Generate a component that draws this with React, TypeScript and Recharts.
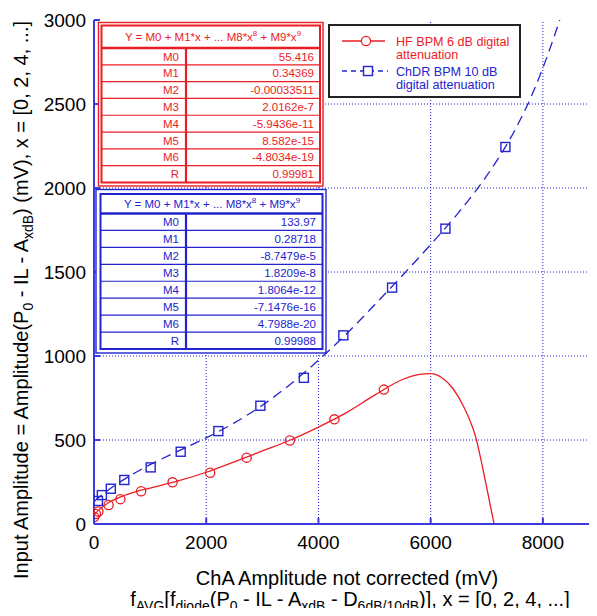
import React from 'react';
import { ComposedChart, Line, Scatter, XAxis, YAxis, ReferenceLine } from 'recharts';

const FONT = '"Liberation Sans", Arial, Helvetica, sans-serif';
const RED = '#ec1c24';
const BLUE = '#2323cf';
const AXIS = '#3b3bdc';
const GRID = '#1c1cd2';

// Axis ticks
const xTicks = [0, 2000, 4000, 6000, 8000];
const yTicks = [0, 500, 1000, 1500, 2000, 2500, 3000];

// HF BPM 6 dB digital attenuation: measured points
const hfPointsX = [5, 35, 78, 260, 470, 840, 1400, 2070, 2720, 3490, 4285, 5165];
const hfPointsY = [42, 60, 74, 113, 148, 195, 248, 305, 395, 497, 623, 800];

// HF BPM fit curve
const hfFitX = [0, 100, 250, 500, 750, 1000, 1500, 2000, 2500, 3000, 3500, 4000, 4500, 5000, 5500, 5800, 6000, 6200, 6400, 6600, 6800, 7000, 7130];
const hfFitY = [55, 87, 125, 165, 193, 214, 256, 308, 370, 435, 500, 577, 663, 767, 860, 890, 895, 871, 805, 690, 520, 215, 0];

// ChDR BPM 10 dB digital attenuation: measured points
const chdrPointsX = [70, 140, 300, 540, 1010, 1545, 2216, 2965, 3740, 4444, 5312, 6263, 7332];
const chdrPointsY = [137, 172, 210, 262, 337, 430, 553, 704, 870, 1123, 1407, 1758, 2244];

// ChDR BPM fit curve
const chdrFitX = [0, 100, 250, 500, 750, 1000, 1500, 2000, 2500, 3000, 3500, 4000, 4500, 5000, 5500, 6000, 6500, 7000, 7500, 7800, 8100, 8300];
const chdrFitY = [134, 162, 201, 258, 308, 353, 434, 513, 602, 707, 832, 975, 1132, 1304, 1481, 1663, 1855, 2073, 2344, 2550, 2805, 3000];

// Fit tables
const coefLabels = ['M0', 'M1', 'M2', 'M3', 'M4', 'M5', 'M6', 'R'];
const hfCoefValues = ['55.416', '0.34369', '-0.00033511', '2.0162e-7', '-5.9436e-11', '8.582e-15', '-4.8034e-19', '0.99981'];
const chdrCoefValues = ['133.97', '0.28718', '-8.7479e-5', '1.8209e-8', '1.8064e-12', '-7.1476e-16', '4.7988e-20', '0.99988'];

const legendHF = ['HF BPM 6 dB digital', 'attenuation'];
const legendChDR = ['ChDR BPM 10 dB', 'digital attenuation'];

const hfPoints = hfPointsX.map((x, i) => ({ x, y: hfPointsY[i] }));
const hfFit = hfFitX.map((x, i) => ({ x, y: hfFitY[i] }));
const chdrPoints = chdrPointsX.map((x, i) => ({ x, y: chdrPointsY[i] }));
const chdrFit = chdrFitX.map((x, i) => ({ x, y: chdrFitY[i] }));

function BottomTick(props: any) {
  const { x, y, payload } = props;
  return (
    <g>
      <line x1={x} x2={x} y1={y} y2={y - 6} stroke={AXIS} strokeWidth={2} />
      <text x={x} y={y + 25} textAnchor="middle" fontSize={19} fontFamily={FONT} fill="#000">{payload.value}</text>
    </g>
  );
}
function TopTick(props: any) {
  const { x, y } = props;
  return <line x1={x} x2={x} y1={y} y2={y + 6} stroke={AXIS} strokeWidth={2} />;
}
function LeftTick(props: any) {
  const { x, y, payload } = props;
  return (
    <g>
      <line x1={x} x2={x + 6} y1={y} y2={y} stroke={AXIS} strokeWidth={2} />
      <text x={x - 8} y={y + 7} textAnchor="end" fontSize={19} fontFamily={FONT} fill="#000">{payload.value}</text>
    </g>
  );
}

const CircleShape = (p: any) => <circle cx={p.cx} cy={p.cy} r={4.6} fill="none" stroke={RED} strokeWidth={1.3} />;
const SquareShape = (p: any) => <rect x={p.cx - 4.5} y={p.cy - 4.5} width={9} height={9} fill="none" stroke={BLUE} strokeWidth={1.4} />;

function CoefTable(props: any) {
  const { ox0, oy0, ox1, oy1, ix0, iy0, ix1, iy1, hy, colX, labX, valX, hx, hBase, color, values } = props;
  const rowH = (iy1 - hy) / coefLabels.length;
  return (
    <g fontFamily={FONT} fontSize={11.5} fill={color}>
      <rect x={ox0} y={oy0} width={ox1 - ox0} height={oy1 - oy0} fill="#fff" stroke={color} strokeWidth={1.4} />
      <rect x={ix0} y={iy0} width={ix1 - ix0} height={iy1 - iy0} fill="#fff" stroke={color} strokeWidth={2} />
      <line x1={ix0} x2={ix1} y1={hy} y2={hy} stroke={color} strokeWidth={2.6} />
      {coefLabels.slice(1).map((_, i) => (
        <line key={i} x1={ix0} x2={ix1} y1={hy + (i + 1) * rowH} y2={hy + (i + 1) * rowH} stroke={color} strokeWidth={1.2} />
      ))}
      <line x1={colX} x2={colX} y1={hy} y2={iy1} stroke={color} strokeWidth={2.2} />
      <text x={hx} y={hBase} textAnchor="middle">
        Y = M0 + M1*x + ... M8*x<tspan dy={-5} fontSize={8}>8</tspan><tspan dy={5}> + M9*x</tspan><tspan dy={-5} fontSize={8}>9</tspan>
      </text>
      {coefLabels.map((l, i) => (
        <text key={'l' + i} x={labX} y={hy + i * rowH + rowH / 2 + 4.2} textAnchor="end">{l}</text>
      ))}
      {values.map((v: string, i: number) => (
        <text key={'v' + i} x={valX} y={hy + i * rowH + rowH / 2 + 4.2} textAnchor="end">{v}</text>
      ))}
    </g>
  );
}

function Overlay() {
  return (
    <svg width={597} height={616} style={{ position: 'absolute', left: 0, top: 0, pointerEvents: 'none' }}>
      <CoefTable ox0={98.5} oy0={22.5} ox1={323} oy1={186} ix0={101.5} iy0={25.5} ix1={320} iy1={182.5} hy={48}
        colX={186} labX={179} valX={314} hx={213} hBase={41} color={RED} values={hfCoefValues} />
      <CoefTable ox0={96} oy0={189.5} ox1={326} oy1={353} ix0={100.5} iy0={194} ix1={322.5} iy1={349} hy={213.5}
        colX={186} labX={179} valX={316} hx={212} hBase={208} color={BLUE} values={chdrCoefValues} />
      <g fontFamily={FONT} fontSize={12.6}>
        <rect x={329} y={25} width={191} height={72} fill="#fff" stroke="#222" strokeWidth={2} />
        <line x1={342} x2={385} y1={41} y2={41} stroke={RED} strokeWidth={1.3} />
        <circle cx={366} cy={41} r={4.6} fill="#fff" stroke={RED} strokeWidth={1.3} />
        <text x={396} y={45.5} fill={RED}>{legendHF[0]}</text>
        <text x={396} y={58.5} fill={RED}>{legendHF[1]}</text>
        <line x1={342} x2={388} y1={71} y2={71} stroke={BLUE} strokeWidth={1.3} strokeDasharray="5 4" />
        <rect x={363.5} y={66.5} width={9} height={9} fill="#fff" stroke={BLUE} strokeWidth={1.4} />
        <text x={396} y={75.5} fill={BLUE}>{legendChDR[0]}</text>
        <text x={396} y={88.5} fill={BLUE}>{legendChDR[1]}</text>
      </g>
      <g fontFamily={FONT} fontSize={20} fill="#000">
        <text x={347} y={585} textAnchor="middle">ChA Amplitude not corrected (mV)</text>
        <text x={350} y={606} textAnchor="middle">
          f<tspan dy={5} fontSize={14}>AVG</tspan><tspan dy={-5}>[f</tspan><tspan dy={5} fontSize={14}>diode</tspan><tspan dy={-5}>(P</tspan><tspan dy={5} fontSize={14}>0</tspan><tspan dy={-5}> - IL - A</tspan><tspan dy={5} fontSize={14}>xdB</tspan><tspan dy={-5}> - D</tspan><tspan dy={5} fontSize={14}>6dB/10dB</tspan><tspan dy={-5}>)], x = [0, 2, 4, ...]</tspan>
        </text>
        <text transform="translate(28,300) rotate(-90)" textAnchor="middle">
          Input Amplitude = Amplitude(P<tspan dy={5} fontSize={14}>0</tspan><tspan dy={-5}> - IL - A</tspan><tspan dy={5} fontSize={14}>xdB</tspan><tspan dy={-5}>) (mV), x = [0, 2, 4, ...]</tspan>
        </text>
      </g>
    </svg>
  );
}

export default function App() {
  return (
    <div style={{ position: 'relative', width: 597, height: 616, overflow: 'hidden', margin: -8, background: '#fff' }}>
      <ComposedChart width={600} height={616} margin={{ top: 20, right: 1, bottom: 62, left: 0 }}>
        <XAxis dataKey="x" type="number" domain={[0, 9000]} ticks={xTicks} allowDataOverflow
          height={30} tickSize={0} tickMargin={0} tick={<BottomTick />} axisLine={{ stroke: AXIS, strokeWidth: 2 }} tickLine={false} />
        <XAxis xAxisId="top" orientation="top" dataKey="x" type="number" domain={[0, 9000]} ticks={xTicks} allowDataOverflow
          height={0} tickSize={0} tickMargin={0} tick={<TopTick />} axisLine={{ stroke: AXIS, strokeWidth: 2 }} tickLine={false} />
        <YAxis dataKey="y" type="number" domain={[0, 3000]} ticks={yTicks} allowDataOverflow
          width={94} tickSize={0} tickMargin={0} tick={<LeftTick />} axisLine={{ stroke: AXIS, strokeWidth: 2 }} tickLine={false} />
        {xTicks.slice(1).map((v) => (
          <ReferenceLine key={'gx' + v} x={v} stroke={GRID} strokeWidth={1} strokeDasharray="1 2" ifOverflow="extendDomain" />
        ))}
        {yTicks.slice(1, -1).map((v) => (
          <ReferenceLine key={'gy' + v} y={v} stroke={GRID} strokeWidth={1} strokeDasharray="1 2" />
        ))}
        <Line data={hfFit} dataKey="y" type="monotone" stroke={RED} strokeWidth={1.3} dot={false} activeDot={false} isAnimationActive={false} />
        <Line data={chdrFit} dataKey="y" type="monotone" stroke={BLUE} strokeWidth={1.3} strokeDasharray="10 6" dot={false} activeDot={false} isAnimationActive={false} />
        <Scatter data={hfPoints} dataKey="y" shape={CircleShape} isAnimationActive={false} />
        <Scatter data={chdrPoints} dataKey="y" shape={SquareShape} isAnimationActive={false} />
      </ComposedChart>
      <Overlay />
    </div>
  );
}
